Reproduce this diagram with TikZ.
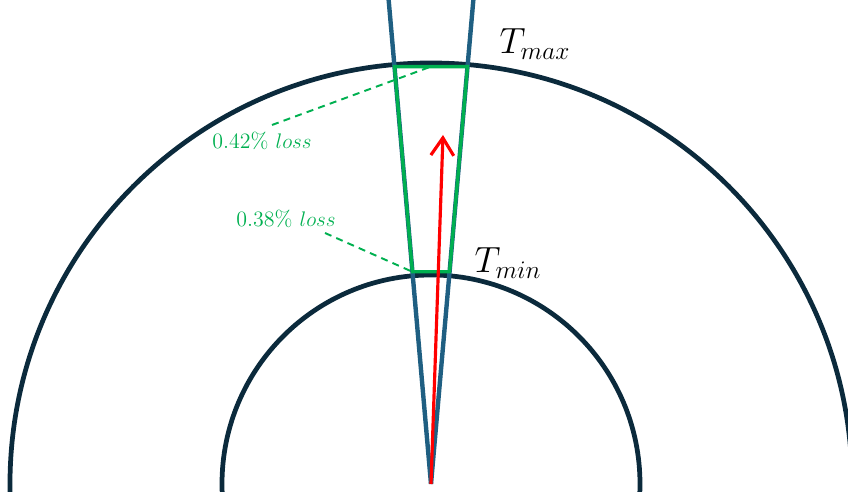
\documentclass[tikz,border=0pt]{standalone}
\usetikzlibrary{arrows.meta,positioning,calc}
\definecolor{ringcol}{HTML}{0B2A3C}
\definecolor{raycol}{HTML}{1F5F82}
\definecolor{losscol}{HTML}{00B050}
\tikzset{
  ring/.style={draw=ringcol, line width=2.7pt},
  ray/.style={draw=raycol, line width=2.5pt},
  sector/.style={draw=losscol, line width=1.9pt, line join=miter},
  lossline/.style={draw=losscol, line width=1.1pt, dash pattern=on 4pt off 3pt},
  losslabel/.style={text=losscol, font=\fontsize{12.5}{14}\selectfont, inner sep=1pt},
  templabel/.style={font=\fontsize{20}{22}\selectfont, inner sep=1pt},
  arrow/.style={-{Straight Barb[length=10pt,width=13pt]}, red, line width=1.8pt}
}
\begin{document}
\begin{tikzpicture}[x=0.02cm,y=0.02cm]
  \useasboundingbox (-431,-8) rectangle (417,484);
  \clip (-431,-8) rectangle (417,484);
  \coordinate (o) at (0,0);
  % the two temperature rings
  \draw[ring] (o) circle (421);
  \draw[ring] (o) circle (209);
  % rays of the sector
  \coordinate (raya) at (95:540);
  \coordinate (rayb) at (85:540);
  \draw[ray] (o) -- (raya);
  \draw[ray] (o) -- (rayb);
  % green cell between the rings
  \coordinate (ta) at (95:419);
  \coordinate (tb) at (85:419);
  \coordinate (ba) at (95:213);
  \coordinate (bb) at (85:213);
  \draw[sector] (ta) -- (tb) -- (bb) -- (ba) -- cycle;
  \draw[arrow] (o) -- (12,349);
  \node[templabel] (tmax) at (104,440) {$T_{max}$};
  \node[templabel] (tmin) at (77,221) {$T_{min}$};
  \node[losslabel] (lossout) at (-169,343) {0.42\% $loss$};
  \node[losslabel] (lossin) at (-145,265) {0.38\% $loss$};
  \coordinate (topmid) at ($(ta)!0.5!(tb)$);
  \coordinate (outfoot) at (-159,359);
  \coordinate (infoot) at (-106,251);
  \draw[lossline] (outfoot) -- (topmid);
  \draw[lossline] (infoot) -- (ba);
\end{tikzpicture}
\end{document}
